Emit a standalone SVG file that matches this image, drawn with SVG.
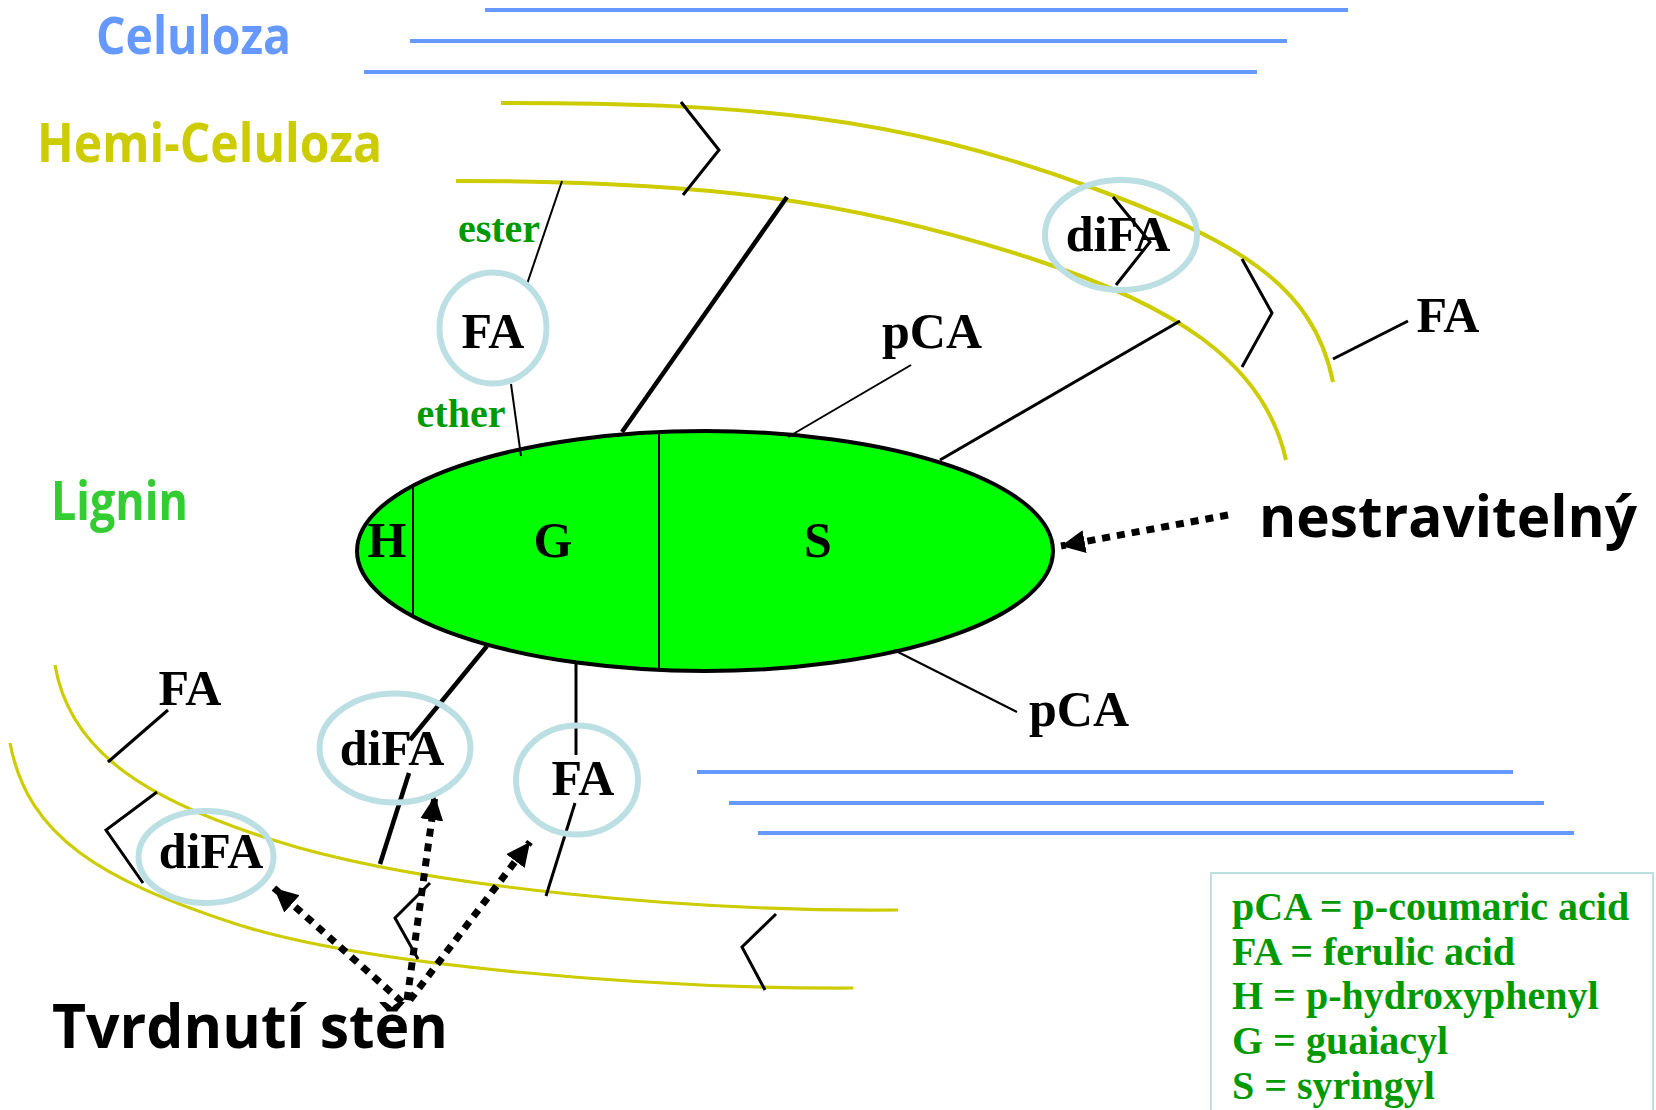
<svg xmlns="http://www.w3.org/2000/svg" width="1656" height="1110" viewBox="0 0 1656 1110">
  <style>
    .title { font-family: "Open Sans", "DejaVu Sans", sans-serif; font-weight: 700; }
    .lbl { font-family: "Liberation Serif", "Times New Roman", serif; font-weight: bold; fill: #000; }
    .green { font-family: "Liberation Serif", "Times New Roman", serif; font-weight: bold; fill: #009900; }
    .cel { stroke: #6699FF; stroke-width: 4; fill: none; }
    .hemi { stroke: #CCCC00; fill: none; }
    .ring { fill: none; stroke: #BBDFE3; stroke-width: 6; }
    .thin { stroke: #000; stroke-width: 2; fill: none; }
    .mid { stroke: #000; stroke-width: 3; fill: none; stroke-linejoin: miter; }
    .thick { stroke: #000; stroke-width: 4.5; fill: none; }
    .dots { stroke: #000; stroke-width: 7; fill: none; stroke-dasharray: 8 7; }
  </style>
  <defs>
    <marker id="head" markerUnits="userSpaceOnUse" markerWidth="26" markerHeight="24" refX="24" refY="11.5" orient="auto">
      <path d="M0,0 L24,11.5 L0,23 Z" fill="#000"/>
    </marker>
  </defs>

  <rect width="1656" height="1110" fill="#fff"/>

  <!-- titles -->
  <text class="title" x="96" y="54" font-size="52" fill="#6699FF" textLength="195" lengthAdjust="spacingAndGlyphs">Celuloza</text>
  <text class="title" x="37" y="162" font-size="54" fill="#CCCC00" textLength="345" lengthAdjust="spacingAndGlyphs">Hemi-Celuloza</text>
  <text class="title" x="51" y="520" font-size="54" fill="#33CC33" textLength="137" lengthAdjust="spacingAndGlyphs">Lignin</text>

  <!-- cellulose fibres -->
  <g id="cellulose">
    <line class="cel" x1="485" y1="10" x2="1348" y2="10"/>
    <line class="cel" x1="410" y1="41" x2="1287" y2="41"/>
    <line class="cel" x1="364" y1="72" x2="1257" y2="72"/>
    <line class="cel" x1="697" y1="772" x2="1513" y2="772"/>
    <line class="cel" x1="729" y1="803" x2="1544" y2="803"/>
    <line class="cel" x1="758" y1="833" x2="1574" y2="833"/>
  </g>

  <!-- hemicellulose chains -->
  <g id="hemicellulose">
    <path class="hemi" stroke-width="4" d="M501,103 C741,103 893,114 1093,188 C1233,240 1313,282 1333,382"/>
    <path class="hemi" stroke-width="4" d="M456,181 C706,181 850,200 1030,258 C1170,304 1264,360 1286,460"/>
    <path class="hemi" stroke-width="3.2" d="M55,665 C70,755 153,802 273,840 C423,888 698,912 898,910"/>
    <path class="hemi" stroke-width="3.2" d="M10,743 C28,838 103,880 233,923 C363,966 653,989 853,988"/>
  </g>

  <!-- lignin polymer -->
  <g id="lignin">
    <ellipse cx="705" cy="551" rx="348" ry="120" fill="#00FF00" stroke="#000" stroke-width="4"/>
    <line x1="413" y1="487" x2="413" y2="616" stroke="#000" stroke-width="2"/>
    <line x1="659" y1="432" x2="659" y2="670" stroke="#000" stroke-width="2"/>
    <text class="lbl" x="387" y="557" font-size="50" text-anchor="middle">H</text>
    <text class="lbl" x="553" y="557" font-size="50" text-anchor="middle">G</text>
    <text class="lbl" x="818" y="557" font-size="50" text-anchor="middle">S</text>
  </g>

  <!-- bonds and arrows -->
  <g id="connectors">
    <polyline class="mid" points="681,102 719,150 683,195"/>
    <line class="thin" x1="562" y1="181" x2="526" y2="287"/>
    <line class="thin" x1="511" y1="384" x2="521" y2="456"/>
    <line class="thick" x1="622" y1="432" x2="787" y2="197"/>
    <line class="thin" x1="788" y1="437" x2="911" y2="365"/>
    <line class="mid" x1="940" y1="460" x2="1180" y2="321" stroke-width="3.5"/>
    <polyline class="mid" points="1113,197 1150,242 1116,285"/>
    <polyline class="mid" points="1242,259 1272,313 1242,367"/>
    <line class="mid" x1="1333" y1="359" x2="1408" y2="321"/>
    <line class="thin" x1="894" y1="650" x2="1017" y2="712"/>
    <line class="thick" x1="487" y1="646" x2="410" y2="740"/>
    <line class="thick" x1="409" y1="773" x2="380" y2="864"/>
    <line class="mid" x1="576" y1="664" x2="576" y2="755"/>
    <line class="mid" x1="575" y1="803" x2="546" y2="896"/>
    <line class="mid" x1="108" y1="762" x2="168" y2="710"/>
    <polyline class="mid" points="157,792 106,830 143,883"/>
    <polyline class="mid" points="430,883 395,918 418,959"/>
    <polyline class="mid" points="776,914 742,947 765,990"/>
    <line class="dots" x1="402" y1="1002" x2="274" y2="888" marker-end="url(#head)"/>
    <line class="dots" x1="407" y1="1000" x2="435" y2="796" marker-end="url(#head)"/>
    <line class="dots" x1="410" y1="1000" x2="530" y2="842" marker-end="url(#head)"/>
    <line class="dots" x1="1228" y1="515" x2="1061" y2="546" marker-end="url(#head)"/>
  </g>

  <!-- ferulate nodes -->
  <g id="fa-top">
    <ellipse class="ring" cx="493" cy="328" rx="53.5" ry="55.5"/>
    <text class="lbl" x="493" y="348" font-size="50" text-anchor="middle">FA</text>
  </g>
  <g id="difa-top">
    <ellipse class="ring" cx="1121" cy="235" rx="76" ry="55"/>
    <text class="lbl" x="1118" y="251" font-size="50" text-anchor="middle">diFA</text>
  </g>
  <g id="fa-right">
    <text class="lbl" x="1448" y="332" font-size="50" text-anchor="middle">FA</text>
  </g>
  <g id="pca-top">
    <text class="lbl" x="932" y="348" font-size="50" text-anchor="middle">pCA</text>
  </g>
  <g id="pca-bottom">
    <text class="lbl" x="1079" y="726" font-size="50" text-anchor="middle">pCA</text>
  </g>
  <g id="fa-left">
    <text class="lbl" x="190" y="705" font-size="50" text-anchor="middle">FA</text>
  </g>
  <g id="difa-mid">
    <ellipse class="ring" cx="395" cy="748" rx="75.5" ry="54.5"/>
    <text class="lbl" x="392" y="765" font-size="50" text-anchor="middle">diFA</text>
  </g>
  <g id="difa-left">
    <ellipse class="ring" cx="206" cy="857" rx="67.5" ry="46"/>
    <text class="lbl" x="211" y="868" font-size="50" text-anchor="middle">diFA</text>
  </g>
  <g id="fa-bottom">
    <ellipse class="ring" cx="577" cy="780" rx="61" ry="54.5"/>
    <text class="lbl" x="583" y="795" font-size="50" text-anchor="middle">FA</text>
  </g>

  <!-- bond type labels -->
  <g id="bond-labels">
    <text class="green" x="499" y="242" font-size="40" text-anchor="middle">ester</text>
    <text class="green" x="461" y="427" font-size="40" text-anchor="middle">ether</text>
  </g>

  <!-- annotations -->
  <g id="note-indigestible">
    <text class="title" x="1259" y="537" font-size="58" fill="#000" textLength="378" lengthAdjust="spacingAndGlyphs">nestravitelný</text>
  </g>
  <g id="note-hardening">
    <text class="title" x="52" y="1048" font-size="60" fill="#000" textLength="396" lengthAdjust="spacingAndGlyphs">Tvrdnutí stěn</text>
  </g>

  <!-- legend -->
  <g id="legend">
    <rect x="1211" y="873" width="442" height="250" fill="#fff" stroke="#BBDFE3" stroke-width="2"/>
    <text class="green" font-size="40">
      <tspan x="1232" y="920">pCA = p-coumaric acid</tspan>
      <tspan x="1232" y="964.5">FA = ferulic acid</tspan>
      <tspan x="1232" y="1009">H = p-hydroxyphenyl</tspan>
      <tspan x="1232" y="1054">G = guaiacyl</tspan>
      <tspan x="1232" y="1099">S = syringyl</tspan>
    </text>
  </g>
</svg>
